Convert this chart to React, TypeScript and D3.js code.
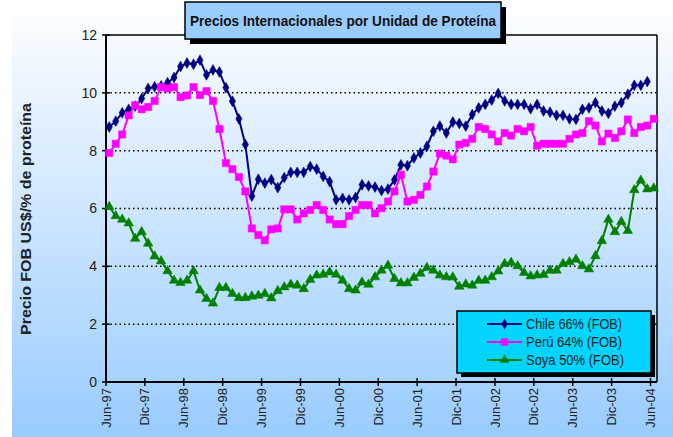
import React from "react";
import * as d3 from "d3";

const tickLabels = ["Jun-97","Dic-97","Jun-98","Dic-98","Jun-99","Dic-99","Jun-00","Dic-00","Jun-01","Dic-01","Jun-02","Dic-02","Jun-03","Dic-03","Jun-04"];
const yTicks = [0, 2, 4, 6, 8, 10, 12];

const chile = [8.82,9.02,9.31,9.43,9.54,9.80,10.15,10.21,10.24,10.35,10.53,10.91,11.03,10.99,11.13,10.62,10.79,10.72,10.18,9.71,
  9.10,8.21,6.43,7.01,6.88,7.00,6.72,7.07,7.25,7.25,7.25,7.45,7.36,7.11,6.93,6.30,6.35,6.30,6.38,6.82,
  6.78,6.74,6.62,6.67,6.99,7.51,7.48,7.75,7.92,8.15,8.67,8.85,8.61,8.99,8.94,8.85,9.25,9.48,9.60,9.75,
  9.98,9.72,9.60,9.60,9.60,9.45,9.60,9.37,9.33,9.22,9.22,9.10,9.08,9.43,9.48,9.66,9.37,9.29,9.54,9.66,
  9.95,10.26,10.26,10.39];

const peru = [7.92,8.24,8.56,9.22,9.57,9.43,9.51,9.72,10.20,10.15,10.20,9.85,9.91,10.20,9.92,10.06,9.72,8.75,7.57,7.36,
  7.09,6.59,5.31,5.08,4.90,5.28,5.31,5.97,5.97,5.62,5.83,5.95,6.12,5.95,5.62,5.46,5.46,5.74,5.95,6.12,
  6.12,5.83,6.01,6.24,6.59,7.17,6.24,6.30,6.47,6.76,7.28,7.90,7.83,7.70,8.21,8.27,8.41,8.82,8.75,8.56,
  8.32,8.61,8.52,8.75,8.67,8.82,8.17,8.24,8.24,8.24,8.24,8.41,8.56,8.61,9.02,8.87,8.32,8.59,8.44,8.67,
  9.08,8.61,8.82,8.87,9.10];

const soya = [6.06,5.74,5.62,5.49,4.96,5.19,4.79,4.35,4.18,3.84,3.51,3.43,3.51,3.84,3.17,2.88,2.72,3.26,3.26,3.05,
  2.91,2.91,2.96,2.99,3.05,2.90,3.15,3.28,3.37,3.34,3.22,3.54,3.69,3.72,3.80,3.72,3.51,3.22,3.17,3.45,
  3.37,3.63,3.86,4.03,3.57,3.42,3.42,3.61,3.75,3.95,3.86,3.69,3.63,3.62,3.30,3.38,3.34,3.51,3.51,3.63,
  3.83,4.09,4.13,4.01,3.78,3.66,3.69,3.71,3.86,3.86,4.09,4.15,4.24,4.01,3.90,4.36,4.88,5.62,5.19,5.54,
  5.23,6.64,6.97,6.67,6.70];

const seriesNames = ["Chile 66% (FOB)", "Perú 64% (FOB)", "Soya 50% (FOB)"];
const seriesColors = ["#000080", "#FF00FF", "#008000"];
const legendTextWidths = [96, 96, 98];

const FONT = "'Liberation Sans', Arial, sans-serif";

export default function App() {
  const W = 673, H = 437;
  const left = 106, right = 657, top = 35, bottom = 382;
  const nCat = 85;
  const x = d3.scaleLinear().domain([0, nCat]).range([left, right]);
  const y = d3.scaleLinear().domain([0, 12]).range([bottom, top]);
  const px = (i: number) => x(i + 0.5);
  const line = d3.line<number>().x((_, i) => px(i)).y((d) => y(d));

  const symbols = [
    d3.symbol().type(d3.symbolDiamond).size(34)(),
    d3.symbol().type(d3.symbolSquare).size(52)(),
    d3.symbol().type(d3.symbolTriangle).size(40)(),
  ];
  const allSeries = [chile, peru, soya];

  return (
    <svg width={W} height={H} style={{ position: "absolute", left: 0, top: 0 }} fontFamily={FONT}>
      <defs>
        <linearGradient id="bg" x1="0" y1="0" x2="0" y2="1">
          <stop offset="0" stopColor="#FFFFFF" />
          <stop offset="1" stopColor="#99CCFF" />
        </linearGradient>
      </defs>
      <rect x={0} y={0} width={W} height={H} fill="#FFFFFF" />
      <rect x={12} y={0} width={W - 12} height={H} fill="url(#bg)" />

      {/* gridlines */}
      {yTicks.filter((t) => t > 0 && t < 12).map((t) => (
        <line key={t} x1={left} x2={right} y1={y(t)} y2={y(t)} stroke="#000" strokeWidth={1.5} strokeDasharray="1.5,3" />
      ))}

      {/* frame */}
      <line x1={left} x2={right} y1={top} y2={top} stroke="#000" strokeWidth={1.5} />
      <line x1={right} x2={right} y1={top} y2={bottom} stroke="#000" strokeWidth={1.5} />
      <line x1={left} x2={left} y1={top} y2={bottom} stroke="#000" strokeWidth={2} />
      <line x1={left} x2={right} y1={bottom} y2={bottom} stroke="#000" strokeWidth={2} />

      {/* y ticks */}
      {yTicks.map((t) => (
        <g key={t}>
          <line x1={left - 4} x2={left + 4} y1={y(t)} y2={y(t)} stroke="#000" strokeWidth={1.5} />
          <text x={97} y={y(t)} dy="0.35em" textAnchor="end" fontSize={14} fill="#222">{t}</text>
        </g>
      ))}

      {/* x ticks */}
      {tickLabels.map((lab, k) => {
        const xx = x(k * 6);
        return (
          <g key={lab}>
            <line x1={xx} x2={xx} y1={bottom - 4} y2={bottom + 4} stroke="#000" strokeWidth={1.5} />
            <text transform={`translate(${xx},${bottom + 6}) rotate(-90)`} dy="0.35em" textAnchor="end" fontSize={13} fill="#222">{lab}</text>
          </g>
        );
      })}

      {/* series */}
      {allSeries.map((s, si) => (
        <g key={si}>
          <path d={line(s) || ""} fill="none" stroke={seriesColors[si]} strokeWidth={2} />
          {s.map((v, i) => (
            <path key={i} d={symbols[si] || ""} transform={`translate(${px(i)},${y(v)})`} fill={seriesColors[si]} stroke={seriesColors[si]} strokeWidth={0.5} />
          ))}
        </g>
      ))}

      {/* y axis title */}
      <text transform="translate(26,219) rotate(-90)" textAnchor="middle" dy="0.35em" fontSize={15} fontWeight="bold" fill="#222" textLength={232} lengthAdjust="spacingAndGlyphs">Precio FOB US$/% de proteína</text>

      {/* title */}
      <rect x={190} y={7} width={316} height={37} fill="#000" />
      <rect x={185} y={2} width={316} height={37} fill="#99CCFF" stroke="#000" strokeWidth={1.5} />
      <text x={343} y={21} dy="0.35em" textAnchor="middle" fontSize={15} fontWeight="bold" fill="#111" textLength={306} lengthAdjust="spacingAndGlyphs">Precios Internacionales por Unidad de Proteína</text>

      {/* legend */}
      <rect x={461} y={315} width={194} height={62} fill="#000" />
      <rect x={457} y={311} width={194} height={62} fill="#00D4FF" stroke="#000" strokeWidth={1.5} />
      {seriesNames.map((nm, si) => {
        const ly = 324 + si * 18;
        return (
          <g key={nm}>
            <line x1={487} x2={522} y1={ly} y2={ly} stroke={seriesColors[si]} strokeWidth={2} />
            <path d={symbols[si] || ""} transform={`translate(504.5,${ly})`} fill={seriesColors[si]} />
            <text x={526} y={ly} dy="0.35em" fontSize={15} fill="#222" textLength={legendTextWidths[si]} lengthAdjust="spacingAndGlyphs">{nm}</text>
          </g>
        );
      })}
    </svg>
  );
}
